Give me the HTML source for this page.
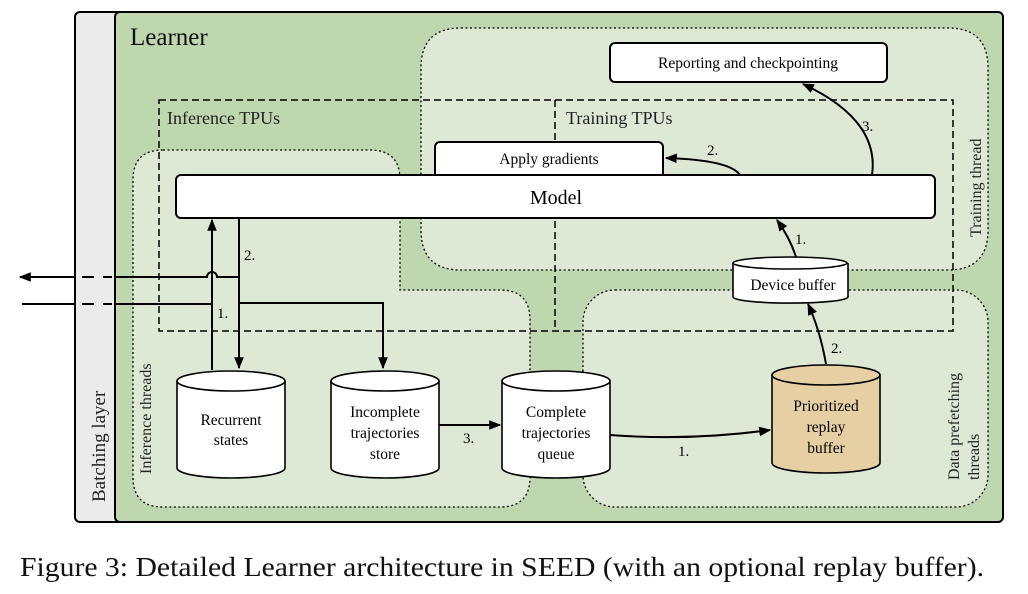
<!DOCTYPE html>
<html><head><meta charset="utf-8"><style>
html,body{margin:0;padding:0;background:#fff;width:1028px;height:594px;overflow:hidden}
svg{display:block;font-family:"Liberation Serif",serif}
</style></head><body>
<svg width="1028" height="594" viewBox="0 0 1028 594" xmlns="http://www.w3.org/2000/svg">
<defs>
<marker id="ah" viewBox="0 0 10 10" refX="9" refY="5" markerWidth="6" markerHeight="6" orient="auto-start-reverse" markerUnits="strokeWidth">
<path d="M0,1 L10,5 L0,9 Z" fill="#000"/></marker>
</defs>
<rect x="75" y="12" width="60" height="510" rx="5" fill="#ebebeb" stroke="#000" stroke-width="2"/>
<text transform="translate(105,502) rotate(-90)" font-size="19" fill="#222">Batching layer</text>
<rect x="115" y="12" width="888" height="510" rx="5" fill="#bed7ae" stroke="#000" stroke-width="2"/>
<text x="130" y="45" font-size="25" fill="#111">Learner</text>
<path d="M461,28 H948 Q988,28 988,68 V230 Q988,270 948,270 H461 Q421,270 421,230 V68 Q421,28 461,28 Z" fill="#dee9d5" stroke="#000" stroke-width="1.3" stroke-dasharray="2,2.5"/>
<path d="M163,150 H370 Q400,150 400,180 V290 H500 Q530,290 530,320 V477 Q530,507 500,507 H163 Q133,507 133,477 V180 Q133,150 163,150 Z" fill="#dee9d5" stroke="#000" stroke-width="1.3" stroke-dasharray="2,2.5"/>
<rect x="583" y="290" width="405" height="217" rx="32" fill="#dee9d5" stroke="#000" stroke-width="1.3" stroke-dasharray="2,2.5"/>
<rect x="159" y="100" width="794" height="231" fill="none" stroke="#000" stroke-width="1.5" stroke-dasharray="7,4"/>
<line x1="555" y1="100" x2="555" y2="331" stroke="#000" stroke-width="1.5" stroke-dasharray="7,4"/>
<text x="167" y="124" font-size="18" fill="#222">Inference TPUs</text>
<text x="566" y="124" font-size="18" fill="#222">Training TPUs</text>
<text transform="translate(981,237) rotate(-90)" font-size="16" fill="#222">Training thread</text>
<text transform="translate(151,474) rotate(-90)" font-size="16" fill="#222">Inference threads</text>
<text transform="translate(959,480) rotate(-90)" font-size="16" fill="#222">Data prefetching</text>
<text transform="translate(979,480) rotate(-90)" font-size="16" fill="#222">threads</text>
<rect x="610" y="43" width="277" height="39" rx="5" fill="#fff" stroke="#000" stroke-width="2"/>
<text x="748" y="68" font-size="15.5" text-anchor="middle">Reporting and checkpointing</text>
<rect x="435" y="142" width="228" height="40" rx="5" fill="#fff" stroke="#000" stroke-width="2"/>
<text x="549" y="164" font-size="15.5" text-anchor="middle">Apply gradients</text>
<rect x="176" y="175" width="759" height="43" rx="5" fill="#fff" stroke="#000" stroke-width="2"/>
<text x="556" y="204" font-size="20" text-anchor="middle">Model</text>
<g stroke="#000" stroke-width="1.6">
<path d="M177,381 V468 A54,10 0 0 0 285,468 V381" fill="#fff"/><ellipse cx="231" cy="381" rx="54" ry="10" fill="#fff"/>
<path d="M331,381 V468 A54,10 0 0 0 439,468 V381" fill="#fff"/><ellipse cx="385" cy="381" rx="54" ry="10" fill="#fff"/>
<path d="M502,381 V468 A54,10 0 0 0 610,468 V381" fill="#fff"/><ellipse cx="556" cy="381" rx="54" ry="10" fill="#fff"/>
<path d="M772,375 V463 A54,10 0 0 0 880,463 V375" fill="#e6cfa2"/><ellipse cx="826" cy="375" rx="54" ry="10" fill="#e6cfa2"/>
<path d="M733,263 V297 A57,6 0 0 0 848,297 V263" fill="#fff"/><ellipse cx="790" cy="263" rx="57" ry="6" fill="#fff"/>
</g>
<g font-size="15.5" text-anchor="middle">
<text x="231" y="425">Recurrent</text><text x="231" y="445">states</text>
<text x="385" y="417">Incomplete</text><text x="385" y="438">trajectories</text><text x="385" y="459">store</text>
<text x="556" y="417">Complete</text><text x="556" y="438">trajectories</text><text x="556" y="459">queue</text>
<text x="826" y="411">Prioritized</text><text x="826" y="432">replay</text><text x="826" y="453">buffer</text>
<text x="793" y="290">Device buffer</text>
</g>
<g stroke="#000" stroke-width="2" fill="none">
<line x1="212" y1="370" x2="212" y2="220" marker-end="url(#ah)"/>
<line x1="239" y1="218" x2="239" y2="368" marker-end="url(#ah)"/>
<path d="M239,277 H217 A5,5 0 0 0 207,277 H115"/>
<path d="M75,277 H20" marker-end="url(#ah)"/>
<line x1="82" y1="277" x2="94" y2="277"/><line x1="103" y1="277" x2="112" y2="277"/>
<line x1="22" y1="304" x2="75" y2="304"/>
<line x1="82" y1="304" x2="94" y2="304"/><line x1="103" y1="304" x2="112" y2="304"/>
<line x1="115" y1="304" x2="212" y2="304"/>
<path d="M239,303 H383 V368" marker-end="url(#ah)"/>
<line x1="439" y1="425" x2="500" y2="425" marker-end="url(#ah)"/>
<path d="M610,435 Q690,441 770,430" marker-end="url(#ah)"/>
<path d="M826,364 Q820,330 808,304" marker-end="url(#ah)"/>
<path d="M796,257 Q790,238 777,220" marker-end="url(#ah)"/>
<path d="M740,175 Q730,160 666,158" marker-end="url(#ah)"/>
<path d="M872,175 Q880,120 803,84" marker-end="url(#ah)"/>
</g>
<g font-size="15">
<text x="244" y="260">2.</text><text x="217" y="318">1.</text>
<text x="463" y="443">3.</text><text x="678" y="456">1.</text>
<text x="831" y="353">2.</text><text x="795" y="244">1.</text>
<text x="707" y="155">2.</text><text x="862" y="131">3.</text>
</g>
<text x="20" y="576" font-size="27" fill="#111" textLength="964" lengthAdjust="spacingAndGlyphs">Figure 3: Detailed Learner architecture in SEED (with an optional replay buffer).</text>
</svg>
</body></html>
